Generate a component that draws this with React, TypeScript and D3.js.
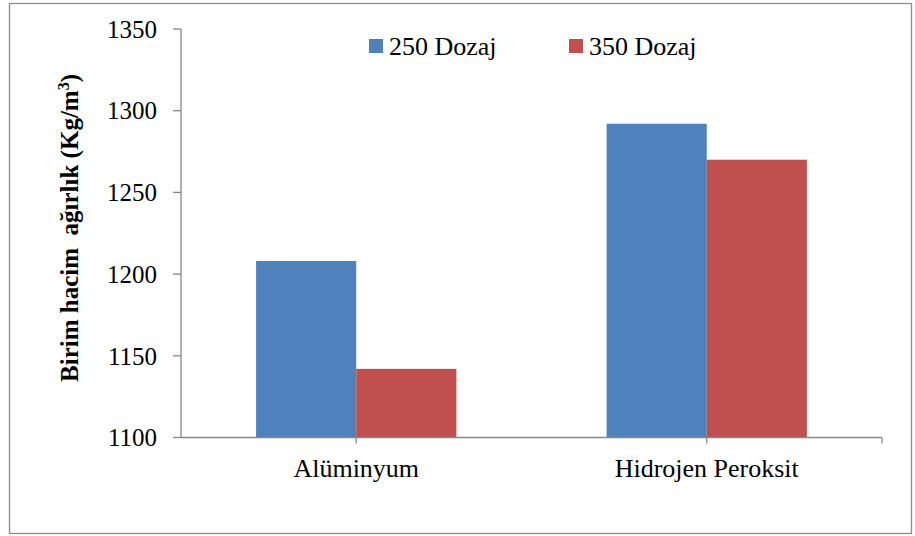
import React from "react";
import * as d3 from "d3";

const categories = ["Alüminyum", "Hidrojen Peroksit"];
const seriesNames = ["250 Dozaj", "350 Dozaj"];
const dozaj250 = [1208, 1292];
const dozaj350 = [1142, 1270];
const yTicks = [1100, 1150, 1200, 1250, 1300, 1350];

const W = 915;
const H = 536;
const colors = ["#4F81BD", "#C0504D"];
const axisColor = "#868686";
const font = "Times New Roman, Liberation Serif, Tinos, DejaVu Serif, serif";

export default function App() {
  const left = 181;
  const right = 882;
  const top = 29;
  const bottom = 437.5;

  const y = d3.scaleLinear().domain([1100, 1350]).range([bottom, top]);
  const x = d3.scaleBand<string>().domain(categories).range([left, right]).padding(0);
  const cw = x.bandwidth();
  const barW = cw / 3.5; // gap width 150%
  const inner = d3
    .scaleBand<string>()
    .domain(seriesNames)
    .range([(cw - 2 * barW) / 2, (cw + 2 * barW) / 2])
    .padding(0);

  const values = [dozaj250, dozaj350];
  const xTickPos = [...categories.map((c) => (x(c) as number) + cw / 2), right];

  const textStyle = { fontFamily: font } as React.CSSProperties;

  return (
    <svg
      width={W}
      height={H}
      style={{ position: "absolute", left: 0, top: 0, background: "#fff" }}
    >
      <rect x={9.5} y={3.5} width={902} height={530} fill="#fff" stroke="#8c8c8c" strokeWidth={1.3} />

      {/* bars */}
      {categories.map((c, ci) =>
        seriesNames.map((s, si) => {
          const v = values[si][ci];
          const bx = (x(c) as number) + (inner(s) as number);
          return (
            <rect
              key={c + s}
              x={bx}
              y={y(v)}
              width={inner.bandwidth()}
              height={bottom - y(v)}
              fill={colors[si]}
            />
          );
        })
      )}

      {/* y axis */}
      <line x1={left} x2={left} y1={top} y2={bottom} stroke={axisColor} strokeWidth={1.3} />
      {yTicks.map((t) => (
        <g key={t}>
          <line x1={left - 8} x2={left} y1={y(t)} y2={y(t)} stroke={axisColor} strokeWidth={1.3} />
          <text
            x={157}
            y={y(t)}
            dy="0.35em"
            textAnchor="end"
            style={textStyle}
            fontSize={25}
            fill="#000"
          >
            {t}
          </text>
        </g>
      ))}

      {/* x axis */}
      <line x1={left} x2={right} y1={bottom} y2={bottom} stroke={axisColor} strokeWidth={1.3} />
      {xTickPos.map((p, i) => (
        <line key={i} x1={p} x2={p} y1={bottom} y2={bottom + 6} stroke={axisColor} strokeWidth={1.3} />
      ))}
      {categories.map((c) => (
        <text
          key={c}
          x={(x(c) as number) + cw / 2}
          y={476.5}
          textAnchor="middle"
          style={textStyle}
          fontSize={26}
          fill="#000"
        >
          {c}
        </text>
      ))}

      {/* y axis title */}
      <text
        transform="translate(78,228) rotate(-90)"
        textAnchor="middle"
        style={{ ...textStyle, whiteSpace: "pre" }}
        fontSize={25}
        fontWeight="bold"
        fill="#000"
      >
        {"Birim hacim  ağırlık (Kg/m"}
        <tspan dy={-9} fontSize={16}>3</tspan>
        <tspan dy={9}>)</tspan>
      </text>

      {/* legend */}
      {seriesNames.map((s, i) => (
        <g key={s} transform={`translate(${369 + i * 200},0)`}>
          <rect x={0} y={39} width={14} height={14} fill={colors[i]} />
          <text x={20} y={55} style={textStyle} fontSize={26} fill="#000">
            {s}
          </text>
        </g>
      ))}
    </svg>
  );
}
